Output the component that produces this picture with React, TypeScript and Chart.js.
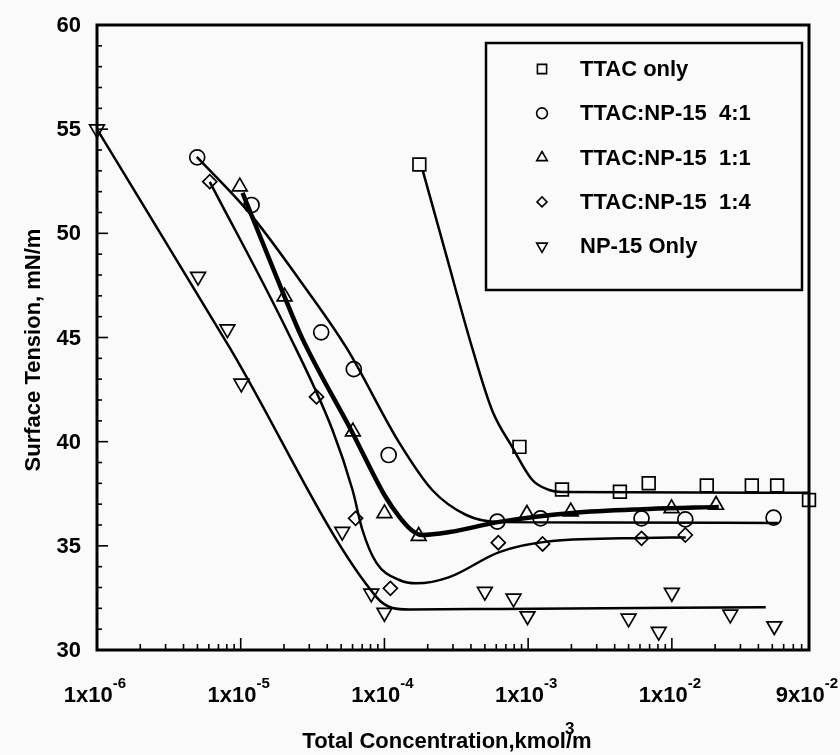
import React, { useEffect, useRef } from 'react';
import { Chart, registerables } from 'chart.js';

Chart.register(...registerables);

// ---------- data ----------
const seriesLabels = ['TTAC only', 'TTAC:NP-15  4:1', 'TTAC:NP-15  1:1', 'TTAC:NP-15  1:4', 'NP-15 Only'];

// TTAC only (squares)
const ttacX = [1.75e-4, 8.7e-4, 1.72e-3, 4.35e-3, 6.9e-3, 1.75e-2, 3.6e-2, 5.4e-2, 9.0e-2];
const ttacY = [53.3, 39.75, 37.7, 37.6, 38.0, 37.9, 37.9, 37.9, 37.2];
const ttacFitX = [1.85e-4, 2.68e-4, 4.08e-4, 5.62e-4, 7.74e-4, 1.07e-3, 1.4e-3, 1.72e-3, 9.0e-2];
const ttacFitY = [53.0, 49.0, 44.5, 41.5, 39.75, 38.16, 37.68, 37.58, 37.55];

// TTAC:NP-15 4:1 (circles)
const r41X = [4.98e-6, 1.19e-5, 3.63e-5, 6.12e-5, 1.07e-4, 6.1e-4, 1.22e-3, 6.15e-3, 1.24e-2, 5.1e-2];
const r41Y = [53.65, 51.36, 45.25, 43.48, 39.36, 36.16, 36.32, 36.32, 36.27, 36.35];
const r41FitX = [4.95e-6, 1.15e-5, 2.57e-5, 5.45e-5, 1.27e-4, 2.15e-4, 3.71e-4, 6.1e-4, 3.1e-3, 5.5e-2];
const r41FitY = [53.67, 50.98, 47.76, 44.5, 39.94, 37.68, 36.48, 36.15, 36.12, 36.1];

// TTAC:NP-15 1:1 (triangles)
const r11X = [9.85e-6, 2.02e-5, 6.03e-5, 1.0e-4, 1.73e-4, 9.8e-4, 1.98e-3, 9.95e-3, 2.03e-2];
const r11Y = [52.24, 46.96, 40.48, 36.56, 35.47, 36.53, 36.64, 36.8, 36.96];
const r11FitX = [1.03e-5, 2.02e-5, 2.65e-5, 6.0e-5, 1.0e-4, 1.27e-4, 1.54e-4, 1.81e-4, 2.83e-4, 6.3e-4, 2.02e-3, 6.9e-3, 2.12e-2];
const r11FitY = [51.94, 46.95, 45.03, 40.42, 37.44, 36.39, 35.76, 35.52, 35.66, 36.15, 36.58, 36.77, 36.87];

// TTAC:NP-15 1:4 (diamonds)
const r14X = [6.09e-6, 3.37e-5, 6.3e-5, 1.1e-4, 6.2e-4, 1.26e-3, 6.15e-3, 1.24e-2];
const r14Y = [52.48, 42.15, 36.32, 32.96, 35.15, 35.09, 35.36, 35.52];
const r14FitX = [6.09e-6, 2.09e-5, 4.35e-5, 6.0e-5, 7.03e-5, 8.8e-5, 1.27e-4, 1.67e-4, 2.83e-4, 6.3e-4, 1.47e-3, 6.19e-3, 1.25e-2];
const r14FitY = [52.47, 45.36, 40.56, 37.68, 35.76, 34.18, 33.36, 33.2, 33.5, 34.7, 35.23, 35.38, 35.4];

// NP-15 Only (down triangles)
const npX = [1e-6, 5.05e-6, 8.08e-6, 1.01e-5, 5.09e-5, 8.1e-5, 1.0e-4, 5.0e-4, 7.91e-4, 9.9e-4, 5.0e-3, 8.1e-3, 1.0e-2, 2.55e-2, 5.16e-2];
const npY = [55.0, 47.92, 45.4, 42.8, 35.68, 32.72, 31.79, 32.8, 32.48, 31.63, 31.52, 30.88, 32.75, 31.71, 31.15];
const npFitX = [1e-6, 8.4e-6, 8.8e-5, 1.14e-4, 1.49e-4, 6.3e-4, 4.5e-2];
const npFitY = [55.0, 44.5, 32.54, 32.02, 31.95, 31.97, 32.05];

// axes
const xMin = 1e-6;
const xMax = 9e-2;
const yMin = 30;
const yMax = 60;
const yTickValues = [30, 35, 40, 45, 50, 55, 60];
const xTickValues = [1e-6, 1e-5, 1e-4, 1e-3, 1e-2, 9e-2];
const xTickMantissa = ['1x10', '1x10', '1x10', '1x10', '1x10', '9x10'];
const xTickExponent = ['-6', '-5', '-4', '-3', '-2', '-2'];
const xTitle = 'Total Concentration,kmol/m';
const xTitleSup = '3';
const yTitle = 'Surface Tension, mN/m';

// ---------- styling ----------
const FONT = '"Liberation Sans", Arial, Helvetica, sans-serif';
const markerStyles = ['rect', 'circle', 'triangle', 'rectRot', 'triangle'];
const markerRotations = [0, 0, 0, 0, 180];
const markerRadii = [9, 7.5, 8.5, 7, 8.5];
const fitWidths = [2.5, 2.5, 4.5, 2.5, 2.5];

function pts(xs: number[], ys: number[]) {
  return xs.map((x, i) => ({ x, y: ys[i] }));
}

function drawShape(ctx: CanvasRenderingContext2D, style: string, rot: number, x: number, y: number, r: number) {
  ctx.beginPath();
  if (style === 'rect') {
    const s = r * Math.SQRT1_2;
    ctx.rect(x - s, y - s, 2 * s, 2 * s);
  } else if (style === 'circle') {
    ctx.arc(x, y, r, 0, Math.PI * 2);
  } else if (style === 'triangle') {
    let a = (rot * Math.PI) / 180;
    for (let k = 0; k < 3; k++) {
      const px = x + Math.sin(a) * r;
      const py = y - Math.cos(a) * r;
      if (k === 0) ctx.moveTo(px, py);
      else ctx.lineTo(px, py);
      a += (2 * Math.PI) / 3;
    }
    ctx.closePath();
  } else if (style === 'rectRot') {
    ctx.moveTo(x, y - r);
    ctx.lineTo(x + r, y);
    ctx.lineTo(x, y + r);
    ctx.lineTo(x - r, y);
    ctx.closePath();
  }
  ctx.stroke();
}

const decorPlugin = {
  id: 'decor',
  beforeDraw(chart: any) {
    const { ctx, width, height } = chart;
    ctx.save();
    ctx.fillStyle = '#fafafa';
    ctx.fillRect(0, 0, width, height);
    ctx.restore();
  },
  afterDatasetsDraw(chart: any) {
    const { ctx, chartArea: a, scales } = chart;
    const xs = scales.x;
    const ys = scales.y;
    ctx.save();
    ctx.strokeStyle = '#000';
    ctx.fillStyle = '#000';

    // frame
    ctx.lineWidth = 3;
    ctx.strokeRect(a.left, a.top, a.right - a.left, a.bottom - a.top);

    // y ticks (inward)
    ctx.lineWidth = 1.6;
    for (let v = yMin + 1; v < yMax; v++) {
      const py = ys.getPixelForValue(v);
      const len = v % 5 === 0 ? 11 : 5;
      ctx.beginPath();
      ctx.moveTo(a.left, py);
      ctx.lineTo(a.left + len, py);
      ctx.stroke();
    }
    // x ticks (inward)
    for (let d = -6; d <= -1; d++) {
      for (let m = 1; m <= 9; m++) {
        const v = m * Math.pow(10, d);
        if (v <= xMin * 1.0001 || v > xMax * 1.0001) continue;
        const px = xs.getPixelForValue(v);
        const len = m === 1 ? 12 : 6;
        ctx.beginPath();
        ctx.moveTo(px, a.bottom);
        ctx.lineTo(px, a.bottom - len);
        ctx.stroke();
      }
    }

    // y tick labels
    ctx.font = `bold 22px ${FONT}`;
    ctx.textAlign = 'right';
    ctx.textBaseline = 'middle';
    yTickValues.forEach((v) => {
      ctx.fillText(String(v), a.left - 16, ys.getPixelForValue(v) + 1);
    });

    // x tick labels with superscript exponent
    ctx.textBaseline = 'alphabetic';
    ctx.textAlign = 'left';
    xTickValues.forEach((v, i) => {
      const px = xs.getPixelForValue(v);
      ctx.font = `bold 22px ${FONT}`;
      const w1 = ctx.measureText(xTickMantissa[i]).width;
      ctx.font = `bold 15px ${FONT}`;
      const w2 = ctx.measureText(xTickExponent[i]).width;
      const start = px - (w1 + w2) / 2 - 2;
      ctx.font = `bold 22px ${FONT}`;
      ctx.fillText(xTickMantissa[i], start, a.bottom + 52);
      ctx.font = `bold 15px ${FONT}`;
      ctx.fillText(xTickExponent[i], start + w1, a.bottom + 38);
    });

    // x title
    ctx.font = `bold 22px ${FONT}`;
    const tw = ctx.measureText(xTitle).width;
    const tx = 447 - tw / 2;
    const tyb = a.bottom + 98;
    ctx.fillText(xTitle, tx, tyb);
    const tailW = ctx.measureText('/m').width;
    ctx.font = `bold 17px ${FONT}`;
    ctx.fillText(xTitleSup, tx + tw - tailW - 1, tyb - 14);

    // y title
    ctx.save();
    ctx.translate(34, 350);
    ctx.rotate(-Math.PI / 2);
    ctx.font = `bold 22px ${FONT}`;
    ctx.textAlign = 'center';
    ctx.textBaseline = 'middle';
    ctx.fillText(yTitle, 0, 0);
    ctx.restore();

    // legend
    const lx = a.right - 323;
    const ly = a.top + 18;
    const lw = 316;
    const lh = 247;
    ctx.fillStyle = '#fafafa';
    ctx.fillRect(lx, ly, lw, lh);
    ctx.lineWidth = 2.5;
    ctx.strokeRect(lx, ly, lw, lh);
    ctx.fillStyle = '#000';
    ctx.font = `bold 22px ${FONT}`;
    ctx.textAlign = 'left';
    ctx.textBaseline = 'middle';
    seriesLabels.forEach((lab, i) => {
      const cy = ly + 26 + i * 44.3;
      ctx.lineWidth = 1.6;
      drawShape(ctx, markerStyles[i], markerRotations[i], lx + 56, cy, markerRadii[i] * 0.72);
      ctx.fillText(lab, lx + 94, cy + 1);
    });

    ctx.restore();
  },
};

export default function App() {
  const ref = useRef<HTMLCanvasElement | null>(null);

  useEffect(() => {
    if (!ref.current) return;
    const markerSets = [
      pts(ttacX, ttacY),
      pts(r41X, r41Y),
      pts(r11X, r11Y),
      pts(r14X, r14Y),
      pts(npX, npY),
    ];
    const fitSets = [
      pts(ttacFitX, ttacFitY),
      pts(r41FitX, r41FitY),
      pts(r11FitX, r11FitY),
      pts(r14FitX, r14FitY),
      pts(npFitX, npFitY),
    ];
    const datasets: any[] = [];
    fitSets.forEach((d, i) => {
      datasets.push({
        label: seriesLabels[i] + ' fit',
        data: d,
        showLine: true,
        borderColor: '#000',
        borderWidth: fitWidths[i],
        pointRadius: 0,
        cubicInterpolationMode: 'monotone',
        fill: false,
      });
    });
    markerSets.forEach((d, i) => {
      datasets.push({
        label: seriesLabels[i],
        data: d,
        showLine: false,
        pointStyle: markerStyles[i],
        rotation: markerRotations[i],
        pointRadius: markerRadii[i],
        pointBorderWidth: 1.7,
        pointBorderColor: '#000',
        pointBackgroundColor: 'rgba(0,0,0,0)',
        clip: false,
      });
    });

    const chart = new Chart(ref.current, {
      type: 'scatter',
      data: { datasets },
      options: {
        animation: false,
        responsive: false,
        devicePixelRatio: 1,
        layout: { padding: { left: 97, top: 25, right: 31, bottom: 105 } },
        plugins: {
          legend: { display: false },
          tooltip: { enabled: false },
          title: { display: false },
        },
        scales: {
          x: { type: 'logarithmic', min: xMin, max: xMax, display: false },
          y: { type: 'linear', min: yMin, max: yMax, display: false },
        },
      },
      plugins: [decorPlugin],
    });
    return () => chart.destroy();
  }, []);

  return (
    <div style={{ position: 'fixed', left: 0, top: 0, width: 840, height: 755 }}>
      <canvas ref={ref} width={840} height={755} style={{ width: 840, height: 755 }} />
    </div>
  );
}
